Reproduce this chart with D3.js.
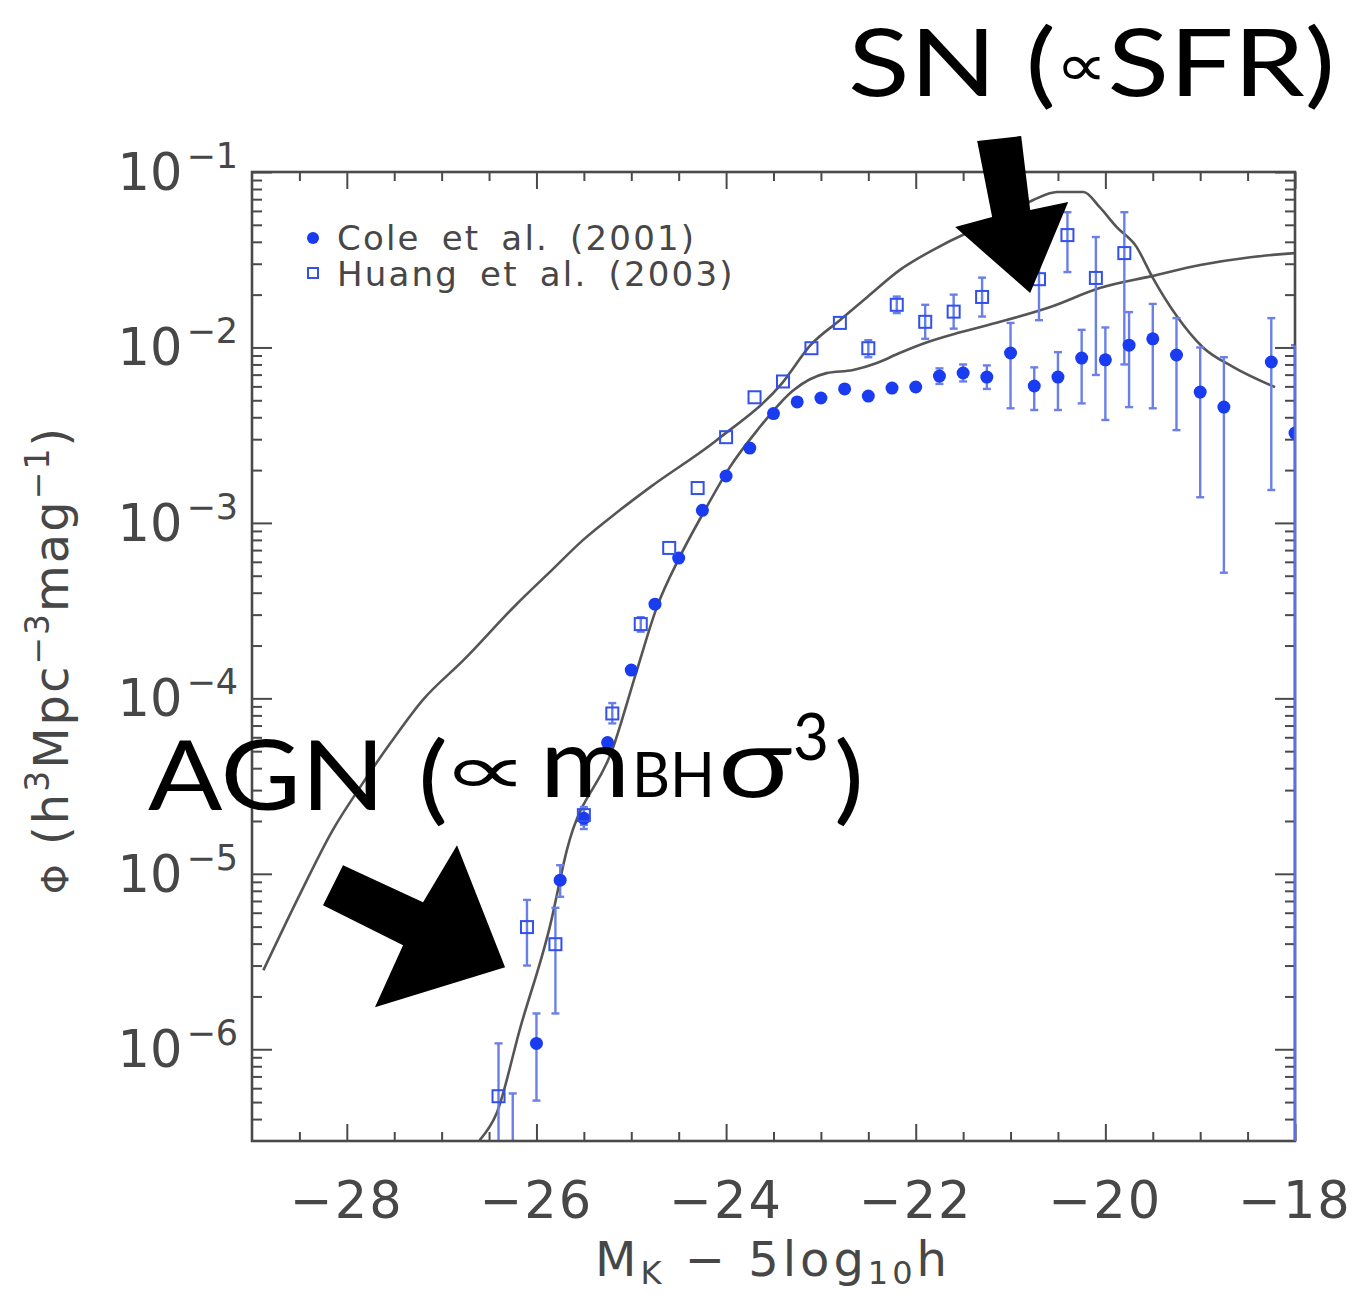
<!DOCTYPE html>
<html><head><meta charset="utf-8">
<script src="https://cdn.jsdelivr.net/npm/d3@7/dist/d3.min.js"></script>
<style>body{margin:0;background:#fff}</style>
</head><body><svg id="chart" width="1356" height="1295" xmlns="http://www.w3.org/2000/svg"></svg>
<script>
// ---------- data ----------
const xDomain = [-29, -18];
const yDomain = [3e-7, 0.1];
const xTicksMajor = [-28, -26, -24, -22, -20, -18];
const xTickLabels = ["−28", "−26", "−24", "−22", "−20", "−18"];
const yTicksMajor = [1e-6, 1e-5, 1e-4, 1e-3, 1e-2, 1e-1];
const yTickExponents = ["−6", "−5", "−4", "−3", "−2", "−1"];

// Cole et al. (2001) – filled circles
const coleMag = [-26.25,-26.0,-25.75,-25.5,-25.25,-25.0,-24.75,-24.5,-24.25,-24.0,-23.75,-23.5,-23.25,-23.0,-22.75,-22.5,-22.25,-22.0,-21.75,-21.5,-21.25,-21.0,-20.75,-20.5,-20.25,-20.0,-19.75,-19.5,-19.25,-19.0,-18.75,-18.25,-18.0];
const colePhi = [2.0e-7,1.08e-6,9.2e-6,2.07e-5,5.6e-5,1.45e-4,3.44e-4,6.3e-4,1.18e-3,1.85e-3,2.67e-3,4.2e-3,4.89e-3,5.15e-3,5.8e-3,5.28e-3,5.87e-3,5.95e-3,6.87e-3,7.15e-3,6.78e-3,9.3e-3,6.03e-3,6.78e-3,8.7e-3,8.5e-3,1.03e-2,1.12e-2,9.06e-3,5.57e-3,4.57e-3,8.26e-3,3.25e-3];
const coleHi  = [5.6e-7,1.6e-6,1.12e-5,2.35e-5,6.0e-5,1.52e-4,3.6e-4,6.6e-4,1.23e-3,1.93e-3,2.8e-3,4.4e-3,5.1e-3,5.4e-3,6.1e-3,5.6e-3,6.2e-3,6.5e-3,7.6e-3,8.0e-3,7.9e-3,1.38e-2,7.7e-3,9.4e-3,1.26e-2,1.3e-2,1.59e-2,1.77e-2,1.47e-2,1.0e-2,8.8e-3,1.47e-2,1.03e-2];
const coleLo  = [1e-9,5.1e-7,7.4e-6,1.8e-5,5.2e-5,1.38e-4,3.3e-4,6.0e-4,1.13e-3,1.77e-3,2.55e-3,4.0e-3,4.7e-3,4.9e-3,5.5e-3,5.0e-3,5.55e-3,5.5e-3,6.2e-3,6.4e-3,5.8e-3,4.5e-3,4.4e-3,4.4e-3,4.8e-3,3.86e-3,4.57e-3,4.5e-3,3.38e-3,1.4e-3,5.2e-4,1.54e-3,1e-9];

// Huang et al. (2003) – open squares
const huangMag = [-26.4,-26.1,-25.8,-25.5,-25.2,-24.9,-24.6,-24.3,-24.0,-23.7,-23.4,-23.1,-22.8,-22.5,-22.2,-21.9,-21.6,-21.3,-20.7,-20.4,-20.1,-19.8];
const huangPhi = [5.4e-7,4.97e-6,3.97e-6,2.16e-5,8.2e-5,2.65e-4,7.2e-4,1.58e-3,3.08e-3,5.2e-3,6.4e-3,9.9e-3,1.38e-2,9.9e-3,1.75e-2,1.4e-2,1.6e-2,1.94e-2,2.45e-2,4.37e-2,2.49e-2,3.45e-2];
const huangHi  = [1.08e-6,7.1e-6,6.4e-6,2.4e-5,9.4e-5,2.9e-4,7.8e-4,1.7e-3,3.3e-3,5.6e-3,6.9e-3,1.07e-2,1.5e-2,1.1e-2,1.95e-2,1.75e-2,2.0e-2,2.5e-2,3.37e-2,5.9e-2,4.26e-2,5.9e-2];
const huangLo  = [1e-9,3.0e-6,1.6e-6,1.9e-5,7.2e-5,2.4e-4,6.6e-4,1.46e-3,2.87e-3,4.8e-3,5.9e-3,9.2e-3,1.27e-2,8.8e-3,1.57e-2,1.12e-2,1.28e-2,1.5e-2,1.43e-2,2.69e-2,6.97e-3,8.0e-3];

// model curves
const modelSNMag = [-28.88,-28.49,-28.15,-27.86,-27.54,-27.20,-26.77,-26.21,-25.86,-25.51,-25.15,-24.80,-24.10,-23.40,-23.11,-22.80,-22.51,-22.17,-21.82,-21.46,-21.11,-20.76,-20.51,-20.23,-20.06,-19.88,-19.67,-19.51,-19.24,-18.97,-18.65,-18.21];
const modelSNPhi = [2.82e-6,7.74e-6,1.77e-5,3.12e-5,5.56e-5,9.77e-5,1.65e-4,3.44e-4,5.24e-4,7.98e-4,1.15e-3,1.60e-3,2.96e-3,6.35e-3,1.03e-2,1.43e-2,1.94e-2,2.76e-2,3.59e-2,4.49e-2,5.32e-2,6.92e-2,7.69e-2,7.69e-2,6.3e-2,4.85e-2,3.73e-2,2.55e-2,1.49e-2,1.00e-2,7.73e-3,5.94e-3];
const modelAGNMag = [-26.60,-26.42,-26.17,-25.86,-25.68,-25.19,-24.94,-24.73,-24.49,-24.24,-23.96,-23.67,-23.29,-22.94,-22.66,-22.41,-22.17,-21.88,-21.53,-21.11,-20.58,-20.06,-19.51,-19.00,-18.47,-18.00];
const modelAGNPhi = [3.03e-7,4.32e-7,1.33e-6,4.97e-6,1.36e-5,5.27e-5,1.45e-4,3.31e-4,6.38e-4,1.14e-3,2.08e-3,3.38e-3,5.71e-3,7.14e-3,7.43e-3,8.15e-3,9.29e-3,1.07e-2,1.22e-2,1.40e-2,1.70e-2,2.18e-2,2.55e-2,2.95e-2,3.27e-2,3.45e-2];

// annotation arrows (in data units: magnitude, log10 phi)
const snArrow = [[-21.352,-0.823],[-20.888,-0.795],[-20.793,-1.217],[-20.392,-1.171],[-20.793,-1.690],[-21.584,-1.314],[-21.194,-1.257]];
const agnArrow = [[-28.040,-4.951],[-27.196,-5.162],[-26.838,-4.837],[-26.331,-5.532],[-27.703,-5.761],[-27.407,-5.407],[-28.251,-5.179]];

// ---------- drawing ----------
const svg = d3.select("#chart");
const L = 252, R = 1295, T = 172, B = 1141;
const x = d3.scaleLinear().domain(xDomain).range([L, R]);
const y = d3.scaleLog().domain(yDomain).range([B, T]);

const axisColor = "#4a4a4a";
const textColor = "#474747";
const tickFont = "'DejaVu Sans', sans-serif";

svg.append("defs").append("clipPath").attr("id", "plotclip")
  .append("rect").attr("x", L).attr("y", T).attr("width", R - L).attr("height", B - T);

// minor tick values
const xMinor = d3.range(-29, -17.99, 0.5).filter(v => !xTicksMajor.includes(v) && v > -29 && v < -18);
const yMinor = [];
for (let e = -7; e <= -2; e++) for (let k = 2; k <= 9; k++) { const v = k * Math.pow(10, e); if (v > yDomain[0] && v < yDomain[1]) yMinor.push(v); }

function styleAxis(g) {
  g.select(".domain").remove();
  g.selectAll("line").attr("stroke", axisColor).attr("stroke-width", 2);
  g.selectAll("text").remove();
}
svg.append("g").attr("transform", `translate(0,${B})`).call(d3.axisBottom(x).tickValues(xTicksMajor).tickSize(-17).tickFormat("")).call(styleAxis);
svg.append("g").attr("transform", `translate(0,${B})`).call(d3.axisBottom(x).tickValues(xMinor).tickSize(-9).tickFormat("")).call(styleAxis);
svg.append("g").attr("transform", `translate(0,${T})`).call(d3.axisTop(x).tickValues(xTicksMajor).tickSize(-17).tickFormat("")).call(styleAxis);
svg.append("g").attr("transform", `translate(0,${T})`).call(d3.axisTop(x).tickValues(xMinor).tickSize(-9).tickFormat("")).call(styleAxis);
svg.append("g").attr("transform", `translate(${L},0)`).call(d3.axisLeft(y).tickValues(yTicksMajor).tickSize(-20).tickFormat("")).call(styleAxis);
svg.append("g").attr("transform", `translate(${L},0)`).call(d3.axisLeft(y).tickValues(yMinor).tickSize(-10).tickFormat("")).call(styleAxis);
svg.append("g").attr("transform", `translate(${R},0)`).call(d3.axisRight(y).tickValues(yTicksMajor).tickSize(-20).tickFormat("")).call(styleAxis);
svg.append("g").attr("transform", `translate(${R},0)`).call(d3.axisRight(y).tickValues(yMinor).tickSize(-10).tickFormat("")).call(styleAxis);

// tick labels
svg.append("g").selectAll("text").data(xTicksMajor).join("text")
  .attr("x", d => x(d)).attr("y", 1218).attr("text-anchor", "middle")
  .attr("font-family", tickFont).attr("font-size", 51).attr("fill", textColor)
  .attr("letter-spacing", 2)
  .text((d, i) => xTickLabels[i]);

const yl = svg.append("g").selectAll("text").data(yTicksMajor).join("text")
  .attr("x", 238).attr("y", d => y(d) + 18).attr("text-anchor", "end")
  .attr("font-family", tickFont).attr("font-size", 51).attr("fill", textColor);
yl.append("tspan").text("10");
yl.append("tspan").attr("dy", -22).attr("font-size", 35).attr("dx", 4).text((d, i) => yTickExponents[i]);

// axis titles
const xt = svg.append("text").attr("x", 595).attr("y", 1276)
  .attr("font-family", tickFont).attr("font-size", 48).attr("fill", textColor).attr("letter-spacing", 4);
xt.append("tspan").text("M");
xt.append("tspan").attr("font-size", 32).attr("dy", 8).text("K");
xt.append("tspan").attr("dy", -8).text("  −  5log");
xt.append("tspan").attr("font-size", 32).attr("dy", 8).text("10");
xt.append("tspan").attr("dy", -8).text("h");

const yt = svg.append("text").attr("transform", "translate(68,660) rotate(-90)").attr("text-anchor", "middle")
  .attr("font-family", tickFont).attr("font-size", 48).attr("fill", textColor).attr("letter-spacing", 2);
yt.append("tspan").attr("font-size", 38).text("Φ");
yt.append("tspan").text("  (h");
yt.append("tspan").attr("font-size", 33).attr("dy", -19).text("3");
yt.append("tspan").attr("dy", 19).text("Mpc");
yt.append("tspan").attr("font-size", 33).attr("dy", -19).text("−3");
yt.append("tspan").attr("dy", 19).text("mag");
yt.append("tspan").attr("font-size", 33).attr("dy", -19).text("−1");
yt.append("tspan").attr("dy", 19).text(")");

// plot content
const content = svg.append("g").attr("clip-path", "url(#plotclip)");
const line = d3.line().x(d => x(d[0])).y(d => y(d[1])).curve(d3.curveMonotoneX);
content.append("path").datum(modelSNMag.map((m, i) => [m, modelSNPhi[i]]))
  .attr("d", line).attr("fill", "none").attr("stroke", "#555").attr("stroke-width", 2.6);
content.append("path").datum(modelAGNMag.map((m, i) => [m, modelAGNPhi[i]]))
  .attr("d", line).attr("fill", "none").attr("stroke", "#555").attr("stroke-width", 2.6);

const barColor = "#6a7fe8";
function errorBars(mags, hi, lo) {
  const g = content.append("g").attr("stroke", barColor).attr("stroke-width", 2.4);
  mags.forEach((m, i) => {
    const cx = x(m), y1 = y(hi[i]), y2 = y(lo[i]);
    if (Math.abs(y2 - y1) < 14) return;
    g.append("line").attr("x1", cx).attr("x2", cx).attr("y1", y1).attr("y2", y2);
    g.append("line").attr("x1", cx - 4).attr("x2", cx + 4).attr("y1", y1).attr("y2", y1);
    g.append("line").attr("x1", cx - 4).attr("x2", cx + 4).attr("y1", y2).attr("y2", y2);
  });
}
errorBars(coleMag, coleHi, coleLo);
errorBars(huangMag, huangHi, huangLo);

content.append("g").selectAll("circle").data(coleMag).join("circle")
  .attr("cx", d => x(d)).attr("cy", (d, i) => y(colePhi[i])).attr("r", 6.5)
  .attr("fill", "#1a3cf0");
content.append("g").selectAll("rect").data(huangMag).join("rect")
  .attr("x", d => x(d) - 6).attr("y", (d, i) => y(huangPhi[i]) - 6).attr("width", 12).attr("height", 12)
  .attr("fill", "none").attr("stroke", "#3150ee").attr("stroke-width", 2);

// frame
svg.append("rect").attr("x", L).attr("y", T).attr("width", R - L).attr("height", B - T)
  .attr("fill", "none").attr("stroke", axisColor).attr("stroke-width", 2.6);
// last Cole error bar lies on the right frame edge
svg.append("line").attr("x1", x(coleMag[coleMag.length - 1])).attr("x2", x(coleMag[coleMag.length - 1]))
  .attr("y1", y(coleHi[coleHi.length - 1])).attr("y2", B).attr("stroke", "#5a70e6").attr("stroke-width", 2.4);

// legend
const lg = svg.append("g").attr("font-family", tickFont).attr("font-size", 34).attr("fill", textColor).attr("letter-spacing", 2.2).attr("word-spacing", 8);
lg.append("circle").attr("cx", 313).attr("cy", 238).attr("r", 6).attr("fill", "#1a3cf0");
lg.append("text").attr("x", 337).attr("y", 250).text("Cole et al. (2001)");
lg.append("rect").attr("x", 308).attr("y", 268).attr("width", 10).attr("height", 10).attr("fill", "none").attr("stroke", "#3150ee").attr("stroke-width", 2);
lg.append("text").attr("x", 337).attr("y", 286).text("Huang et al. (2003)");

// arrows
const arrowPath = pts => "M" + pts.map(p => `${x(p[0])},${y(Math.pow(10, p[1]))}`).join("L") + "Z";
svg.append("path").attr("d", arrowPath(snArrow)).attr("fill", "#000");
svg.append("path").attr("d", arrowPath(agnArrow)).attr("fill", "#000");

// annotation text
const annFont = "Lato, 'Open Sans', 'DejaVu Sans', sans-serif";
const sn = svg.append("text").attr("x", 848).attr("y", 96).attr("font-family", annFont).attr("font-size", 94).attr("fill", "#000")
  .attr("textLength", 487).attr("lengthAdjust", "spacingAndGlyphs");
sn.append("tspan").text("SN (");
sn.append("tspan").attr("font-size", 60).attr("dy", -10).text("∝");
sn.append("tspan").attr("dy", 10).text("SFR)");

const agnParts = [
  {t: "AGN", x: 148, y: 810, s: 96, w: 237},
  {t: "(", x: 418, y: 812, s: 96, w: 30},
  {t: "∝", x: 441, y: 794, s: 70, w: 88},
  {t: "m", x: 540, y: 797, s: 96, w: 90},
  {t: "BH", x: 632, y: 797, s: 62, w: 83},
  {t: "σ", x: 718, y: 797, s: 96, w: 74},
  {t: "3", x: 793, y: 760, s: 66, w: 36},
  {t: ")", x: 834, y: 812, s: 96, w: 30}
];
svg.append("g").selectAll("text").data(agnParts).join("text")
  .attr("x", d => d.x).attr("y", d => d.y).attr("font-size", d => d.s)
  .attr("font-family", annFont).attr("fill", "#000")
  .attr("textLength", d => d.w).attr("lengthAdjust", "spacingAndGlyphs")
  .text(d => d.t);
</script></body></html>
